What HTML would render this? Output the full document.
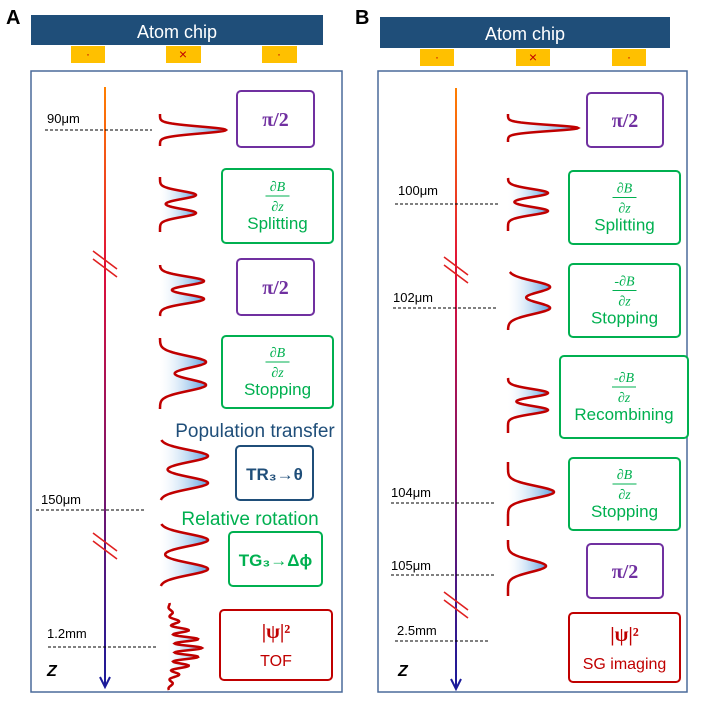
<!DOCTYPE html>
<html><head><meta charset="utf-8"><style>
body{margin:0;background:#fff}
svg{display:block;font-family:"Liberation Sans",sans-serif}
</style></head><body>
<svg id="s" width="705" height="702" viewBox="0 0 705 702">
<defs>
<linearGradient id="fill" x1="1" x2="0" y1="0" y2="0"><stop offset="0" stop-color="#5aa0e0"/><stop offset="1" stop-color="#ffffff" stop-opacity="0.2"/></linearGradient>
<linearGradient id="axA" gradientUnits="userSpaceOnUse" x1="0" x2="0" y1="87" y2="688"><stop offset="0" stop-color="#ff8000"/><stop offset="0.3" stop-color="#e0103a"/><stop offset="1" stop-color="#1a1a9a"/></linearGradient>
</defs>
<!-- Panel A -->
<text x="6" y="24" font-size="20" font-weight="bold">A</text>
<rect x="31" y="15" width="292" height="30" fill="#1f4e79"/>
<text x="177" y="38" font-size="18" fill="#fff" text-anchor="middle">Atom chip</text>
<g fill="#ffc000">
<rect x="71" y="46" width="34" height="17"/><rect x="166" y="46" width="35" height="17"/><rect x="262" y="46" width="35" height="17"/></g>
<text x="88" y="58" font-size="12" fill="#c00000" text-anchor="middle">·</text>
<text x="183" y="59" font-size="14" fill="#c00000" text-anchor="middle">×</text>
<text x="279" y="58" font-size="12" fill="#c00000" text-anchor="middle">·</text>
<rect x="31" y="71" width="311" height="621" fill="none" stroke="#4a6a9a" stroke-width="1.5"/>
<line x1="105" y1="87" x2="105" y2="686" stroke="url(#axA)" stroke-width="2"/>
<path d="M100,677 L105,687 L110,677" fill="none" stroke="#1a1a9a" stroke-width="2"/>
<text x="47" y="676" font-size="16" font-weight="bold" font-style="italic">Z</text>
<!-- Panel B -->
<text x="355" y="24" font-size="20" font-weight="bold">B</text>
<rect x="380" y="17" width="290" height="31" fill="#1f4e79"/>
<text x="525" y="40" font-size="18" fill="#fff" text-anchor="middle">Atom chip</text>
<g fill="#ffc000">
<rect x="420" y="49" width="34" height="17"/><rect x="516" y="49" width="34" height="17"/><rect x="612" y="49" width="34" height="17"/></g>
<text x="437" y="61" font-size="12" fill="#c00000" text-anchor="middle">·</text>
<text x="533" y="62" font-size="14" fill="#c00000" text-anchor="middle">×</text>
<text x="629" y="61" font-size="12" fill="#c00000" text-anchor="middle">·</text>
<rect x="378" y="71" width="309" height="621" fill="none" stroke="#4a6a9a" stroke-width="1.5"/>
<line x1="456" y1="88" x2="456" y2="688" stroke="url(#axA)" stroke-width="2"/>
<path d="M451,679 L456,689 L461,679" fill="none" stroke="#1a1a9a" stroke-width="2"/>
<text x="398" y="676" font-size="16" font-weight="bold" font-style="italic">Z</text>
<g id="dyn"></g>
</svg>
<script>
const NS='http://www.w3.org/2000/svg';
const g=document.getElementById('dyn');
function el(t,a,txt){const e=document.createElementNS(NS,t);for(const k in a)e.setAttribute(k,a[k]);if(txt!==undefined)e.textContent=txt;g.appendChild(e);return e;}
const posLabels=[['90μm',47,123,45,152,130],['150μm',41,504,36,144,510],['1.2mm',47,638,48,156,647],
['100μm',398,195,395,500,204],['102μm',393,302,393,498,308],['104μm',391,497,391,495,503],['105μm',391,570,391,496,575],['2.5mm',397,635,395,490,641]];
posLabels.forEach(p=>{
 const t=el('text',{x:p[1],y:p[2],'font-size':13,fill:'#000'},p[0]);
 
 
 const l=el('line',{x1:p[3],x2:p[4],y1:p[5],y2:p[5],stroke:'#000','stroke-dasharray':'3,2','stroke-width':1});
 
 
});
const breaks=[[105,264],[105,546],[456,270],[456,605]];
breaks.forEach(b=>{
 for(const d of [-4,4]){const l=el('line',{x1:b[0]-12,y1:b[1]-9+d,x2:b[0]+12,y2:b[1]+9+d,stroke:'#e02020','stroke-width':1.6});
 
 }
});
const clouds=[[160,114,146,66,3.5,[130],0],[160,177,232,36,4,[195,213],0],[160,265,316,44,4.5,[281,299],0],
[160,338,409,46,6,[362,385],0],[160,440,500,48,6,[456,483],0],[160,524,586,48,6,[540,569],0],
[168,603,690,34,18,[648],9],
[508,114,142,70,3,[128],0],[508,178,231,40,4,[193,211],0],[508,272,330,42,6,[287,308],0],
[508,378,433,40,4,[393,410],0],[508,462,526,46,6,[492],0],[508,540,596,38,6,[566],0]];
clouds.forEach(c=>{
 const [x0,y1,y2,A,s,cs,fr]=c;let pts=[];
 for(let y=y1;y<=y2;y+=0.5){let v=0;cs.forEach(m=>v+=Math.exp(-((y-m)**2)/(2*s*s)));
  if(fr){v*=Math.cos((y-cs[0])*Math.PI/fr)**2*0.8+0.2;}
  pts.push([x0+A*Math.min(v,1.05),y]);}
 const d='M'+pts.map(p=>p[0].toFixed(1)+','+p[1]).join(' L');
 const f=el('path',{d:d+` L${x0},${y2} L${x0},${y1} Z`,fill:'url(#fill)',stroke:'none'});
 
 
 const p=el('path',{d:d,fill:'none',stroke:'#c00000','stroke-width':2.5});
 
 
});
const boxes=[[237,91,77,56,'#7030a0','pi'],[222,169,111,74,'#00b050','grad','Splitting',''],[237,259,77,56,'#7030a0','pi'],
[222,336,111,72,'#00b050','grad','Stopping',''],[236,446,77,54,'#1f4e79','tr'],[229,532,93,54,'#00b050','tg'],[220,610,112,70,'#c00000','psi','TOF'],
[587,93,76,54,'#7030a0','pi'],[569,171,111,73,'#00b050','grad','Splitting',''],[569,264,111,73,'#00b050','grad','Stopping','-'],
[560,356,128,82,'#00b050','grad','Recombining','-'],[569,458,111,72,'#00b050','grad','Stopping',''],[587,544,76,54,'#7030a0','pi'],[569,613,111,69,'#c00000','psi','SG imaging']];
boxes.forEach(b=>{
 const [x,y,w,h,col,k]=b;const cx=x+w/2;
 const r=el('rect',{x:x,y:y,width:w,height:h,rx:4,fill:'#fff',stroke:col,'stroke-width':2});
 
 
 const T=(tx,ty,fs,txt,extra)=>{const t=el('text',Object.assign({x:tx,y:ty,'font-size':fs,fill:col,'text-anchor':'middle'},extra||{}),txt);
  
  return t;};
 if(k==='pi')T(cx,y+h/2+7,20,'π/2',{'font-family':'Liberation Serif, serif','font-weight':'bold'});
 if(k==='grad'){const top=y+h/2-15;
  T(cx,top,14,b[7]+'∂B',{'font-family':'Liberation Serif, serif','font-style':'italic'});
  const l=el('line',{x1:cx-12,x2:cx+12,y1:top+5,y2:top+5,stroke:col,'stroke-width':1});
  
  
  T(cx,top+20,14,'∂z',{'font-family':'Liberation Serif, serif','font-style':'italic'});
  T(cx,top+38,17,b[6]);}
 if(k==='tr')T(cx,y+h/2+7,17,'TR₃→θ',{'font-weight':'bold'});
 if(k==='tg')T(cx,y+h/2+7,17,'TG₃→Δϕ',{'font-weight':'bold'});
 if(k==='psi'){T(cx,y+28,20,'|ψ|²',{'font-family':'Liberation Serif, serif','font-weight':'bold'});T(cx,y+56,16,b[6]);}
});
const cap1=el('text',{x:255,y:437,'font-size':19,fill:'#1f4e79','text-anchor':'middle'},'Population transfer');


const cap2=el('text',{x:250,y:525,'font-size':19,fill:'#00b050','text-anchor':'middle'},'Relative  rotation');


</script>
</body></html>
